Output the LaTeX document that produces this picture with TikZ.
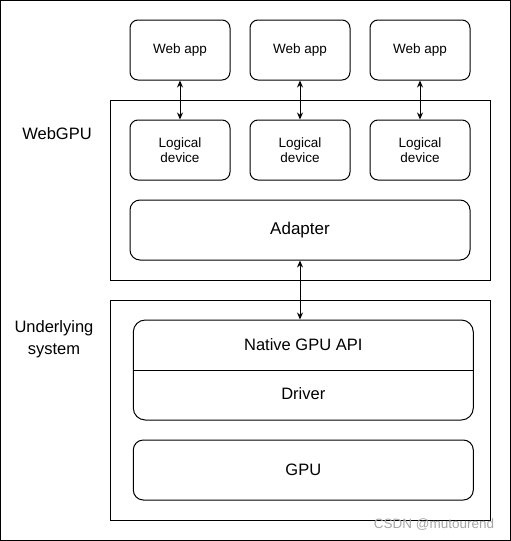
\documentclass[tikz,border=0pt]{standalone}
\usepackage{fontspec}
\setmainfont{Liberation Sans}
\usetikzlibrary{arrows.meta}
\begin{document}
\begin{tikzpicture}[x=1pt,y=-1pt,line width=1pt,
  box/.style={draw,rounded corners=8pt,minimum width=100pt,minimum height=60pt,inner sep=0pt,align=center,font=\fontsize{13.5}{15}\selectfont},
  wide/.style={draw,rounded corners=10pt,minimum width=340pt,minimum height=60pt,inner sep=0pt,font=\fontsize{16.5}{19}\selectfont},
  cont/.style={draw,minimum width=380pt,inner sep=0pt},
  lbl/.style={align=center,font=\fontsize{16.5}{22}\selectfont},
  biarrow/.style={{Stealth[length=7pt,width=6pt]}-{Stealth[length=7pt,width=6pt]}}]
\useasboundingbox (0,0) rectangle (511,541);
\node[draw,minimum width=510pt,minimum height=540pt,inner sep=0pt] (frame) at (255.5,270.5) {};
% containers
\node[cont,minimum height=180pt] (webgpu) at (300,190) {};
\node[cont,minimum height=220pt] (under) at (300,410) {};
\node[lbl] (webgpuLbl) at (57,134) {WebGPU};
\node[lbl] (underLbl) at (54,339) {Underlying\\system};
% web apps
\node[box] (app1) at (180,50) {Web app};
\node[box] (app2) at (300,50) {Web app};
\node[box] (app3) at (420,50) {Web app};
% logical devices
\node[box] (dev1) at (180,150) {Logical\\device};
\node[box] (dev2) at (300,150) {Logical\\device};
\node[box] (dev3) at (420,150) {Logical\\device};
% adapter
\node[wide,font=\fontsize{17}{19}\selectfont] (adapter) at (300,230) {Adapter};
% native / driver stack
\node[draw,rounded corners=12pt,minimum width=340pt,minimum height=100pt,inner sep=0pt] (stack) at (303.3,370) {};
\draw (stack.west) -- (stack.east);
\node[lbl] (native) at (303.3,345) {Native GPU API};
\node[lbl] (driver) at (303.3,394) {Driver};
% gpu
\node[wide] (gpu) at (303.3,470) {GPU};
% arrows
\draw[biarrow] (app1) -- (dev1);
\draw[biarrow] (app2) -- (dev2);
\draw[biarrow] (app3) -- (dev3);
\draw[biarrow] (adapter.south) -- (adapter.south |- stack.north);
% watermark
\node[anchor=east,text=black!35,font=\fontsize{13.5}{15}\selectfont] (wm) at (498,525) {CSDN @mutourend};
\end{tikzpicture}
\end{document}
